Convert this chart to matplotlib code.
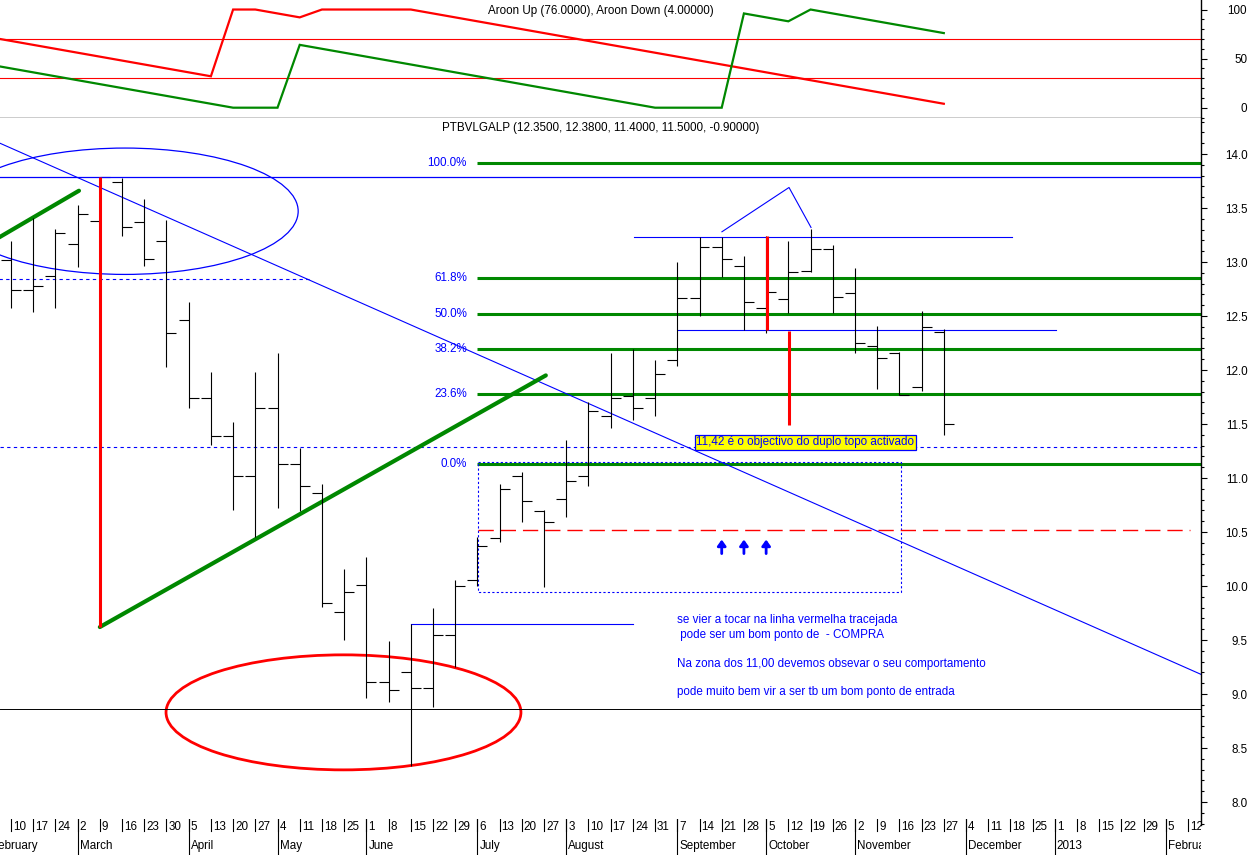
import matplotlib
matplotlib.use("Agg")
import matplotlib.pyplot as plt
from matplotlib.patches import Ellipse
from matplotlib.ticker import MultipleLocator, FixedLocator

plt.rcParams['font.family'] = ['Liberation Sans', 'DejaVu Sans']

W, H = 1250, 855
FS = 8.4

# ---------------- data ----------------
day_labels = ["10", "17", "24", "2", "9", "16", "23", "30", "5", "13", "20", "27", "4", "11", "18",
              "25", "1", "8", "15", "22", "29", "6", "13", "20", "27", "3", "10", "17", "24", "31",
              "7", "14", "21", "28", "5", "12", "19", "26", "2", "9", "16", "23", "27", "4", "11",
              "18", "25", "1", "8", "15", "22", "29", "5", "12"]
month_labels = ["February", "March", "April", "May", "June", "July", "August", "September",
                "October", "November", "December", "2013", "February"]
month_start = [-1, 3, 8, 12, 16, 21, 25, 30, 34, 38, 43, 47, 52]

opens = [13.02, 12.74, 12.87, 13.17, 13.38, 13.74, 13.37, 13.19, 12.46, 11.74,
         11.39, 11.02, 11.65, 11.13, 10.86, 9.76, 10.01, 9.11, 9.20, 9.06,
         9.55, 10.06, 10.44, 11.02, 10.69, 10.81, 11.02, 11.57, 11.76, 11.74,
         12.09, 12.67, 13.14, 12.96, 12.57, 12.66, 12.92, 13.12, 12.71, 12.22,
         12.16, 11.84, 12.35]
highs = [13.19, 13.41, 13.31, 13.53, 13.79, 13.78, 13.58, 13.39, 12.63, 11.98,
         11.52, 11.98, 12.16, 11.28, 10.94, 10.16, 10.27, 9.49, 9.65, 9.80,
         10.06, 10.45, 10.94, 11.06, 10.70, 11.35, 11.70, 12.16, 12.19, 12.09,
         13.00, 13.23, 13.23, 13.06, 13.24, 13.19, 13.31, 13.16, 12.94, 12.41,
         12.17, 12.55, 12.38]
lows = [12.57, 12.54, 12.57, 12.95, 13.20, 13.24, 12.96, 12.03, 11.65, 11.31,
        10.70, 10.45, 10.72, 10.69, 9.81, 9.50, 8.96, 8.93, 8.33, 8.88,
        9.25, 10.00, 10.41, 10.59, 9.99, 10.64, 10.93, 11.46, 11.54, 11.57,
        12.04, 12.50, 12.86, 12.37, 12.34, 12.53, 12.91, 12.53, 12.16, 11.82,
        11.77, 11.81, 11.40]
closes = [12.74, 12.78, 13.27, 13.44, 13.79, 13.32, 13.03, 12.34, 11.74, 11.39,
          11.02, 11.65, 11.13, 10.93, 9.84, 9.94, 9.11, 9.04, 9.06, 9.55,
          10.00, 10.37, 10.90, 10.79, 10.59, 10.97, 11.62, 11.74, 11.65, 11.96,
          12.67, 13.14, 13.03, 12.63, 12.72, 12.91, 13.12, 12.68, 12.25, 12.11,
          11.77, 12.40, 11.50]

aroon_weeks = list(range(-1, 43))
aroon_up = [44, 40, 36, 32, 28, 24, 20, 16, 12, 8, 4, 0, 0, 0, 64, 60, 56, 52, 48, 44,
            40, 36, 32, 28, 24, 20, 16, 12, 8, 4, 0, 0, 0, 0, 96, 92, 88, 100, 96, 92,
            88, 84, 80, 76]
aroon_down = [72, 68, 64, 60, 56, 52, 48, 44, 40, 36, 32, 100, 100, 96, 92, 100, 100, 100, 100, 100,
              96, 92, 88, 84, 80, 76, 72, 68, 64, 60, 56, 52, 48, 44, 40, 36, 32, 28, 24, 20,
              16, 12, 8, 4]

fib_labels = ["100.0%", "61.8%", "50.0%", "38.2%", "23.6%", "0.0%"]
fib_values = [13.92, 12.85, 12.52, 12.19, 11.78, 11.13]

# drawn studies (week index, price)
trend_blue = [(-0.5, 14.10), (53.6, 9.18)]
trend_green_1 = [(-0.6, 13.22), (3.06, 13.66)]
trend_green_2 = [(4.0, 9.62), (24.08, 11.95)]
red_drop = [(4.0, 13.79), (4.0, 9.62)]
red_drop_2 = [(34.03, 13.24), (34.03, 12.37)]
red_drop_3 = [(35.03, 12.36), (35.03, 11.49)]
head_line = [(32.01, 13.28), (35.03, 13.69), (36.02, 13.32)]
hline_full_blue = 13.79
hline_full_black = 8.86
hline_dotted_full = 11.29
hline_dotted_left = (12.84, -0.6, 13.5)
blue_segments = [(9.65, 18.0, 28.0), (13.23, 28.05, 45.07), (12.37, 30.03, 47.05)]
red_dashed = (10.52, 21.03, 53.1)
dotted_box = (21.03, 9.94, 40.07, 11.15)   # x0, y0, x1, y1
arrow_weeks = [32, 33, 34]
arrow_tip, arrow_base = 10.43, 10.30
ellipse_blue = (5.13, 13.47, 15.6, 1.17)
ellipse_red = (14.97, 8.83, 15.98, 1.065)
fib_x0 = 21.0

note_text = "11,42 é o objectivo do duplo topo activado"
note_pos = (30.85, 11.33)
comments = ["se vier a tocar na linha vermelha tracejada",
            " pode ser um bom ponto de  - COMPRA",
            "Na zona dos 11,00 devemos obsevar o seu comportamento",
            "pode muito bem vir a ser tb um bom ponto de entrada"]
comment_y = [9.685, 9.546, 9.278, 9.02]
comment_x = 29.99

# ---------------- layout ----------------
fig = plt.figure(figsize=(W / 100, H / 100), dpi=100)
fig.patch.set_facecolor('white')

AX_R = 1201
MAIN_TOP, MAIN_BOT = 118, 825
XMIN, XMAX = -0.4955, 53.58

ax2 = fig.add_axes([0, 1 - MAIN_TOP / H, AX_R / W, MAIN_TOP / H])
ax = fig.add_axes([0, 1 - MAIN_BOT / H, AX_R / W, (MAIN_BOT - MAIN_TOP) / H])
axd = fig.add_axes([0, 0, AX_R / W, 36 / H])

PX_PER_PT = 100 / 72.0

# ---- Aroon panel ----
ax2.set_xlim(XMIN, XMAX)
ax2.set_ylim(-10.5, 109.7)
ax2.axhline(70, color='red', lw=0.8)
ax2.axhline(30, color='red', lw=0.8)
ax2.plot(aroon_weeks, aroon_down, color='red', lw=1.6, solid_joinstyle='miter')
ax2.plot(aroon_weeks, aroon_up, color='#008800', lw=1.6, solid_joinstyle='miter')
ax2.text(0.5, 1 - 11 / MAIN_TOP, "Aroon Up (76.0000), Aroon Down (4.00000)", transform=ax2.transAxes,
         ha='center', va='center', fontsize=FS)
for s in ['top', 'left']:
    ax2.spines[s].set_visible(False)
ax2.spines['right'].set_linewidth(1.0)
ax2.spines['bottom'].set_linewidth(1.0)
ax2.xaxis.set_visible(False)
ax2.yaxis.tick_right()
ax2.yaxis.set_major_locator(FixedLocator([0, 50, 100]))
ax2.yaxis.set_minor_locator(MultipleLocator(10))
ax2.tick_params(axis='y', which='major', length=6 / PX_PER_PT, width=0.8, direction='out',
                pad=(46 - 6) / PX_PER_PT, labelsize=FS)
ax2.tick_params(axis='y', which='minor', length=3 / PX_PER_PT, width=0.8, direction='out')
for t in ax2.get_yticklabels():
    t.set_horizontalalignment('right')

# ---- Main panel ----
ax.set_xlim(XMIN, XMAX)
ax.set_ylim(14 - (MAIN_BOT - 154) / 108.0, 14 + (154 - MAIN_TOP) / 108.0)

# horizontal references
ax.axhline(hline_full_black, color='black', lw=0.7)
ax.axhline(hline_dotted_full, color='blue', lw=0.8, ls=(0, (3, 3)))
ax.plot([hline_dotted_left[1], hline_dotted_left[2]], [hline_dotted_left[0]] * 2,
        color='blue', lw=0.8, ls=(0, (3, 3)))

# fib lines
for lab, v in zip(fib_labels, fib_values):
    ax.plot([fib_x0, XMAX + 1], [v, v], color='#008800', lw=2.2, solid_capstyle='butt')
    ax.text(fib_x0 - 0.47, v, lab, color='blue', ha='right', va='center', fontsize=FS)

# dotted box
bx0, by0, bx1, by1 = dotted_box
ax.plot([bx0, bx1, bx1, bx0, bx0], [by1, by1, by0, by0, by1], color='blue', lw=0.8, ls=(0, (2, 2)))

# red dashed
ax.plot([red_dashed[1], red_dashed[2]], [red_dashed[0]] * 2, color='red', lw=1.0, ls=(0, (11, 5)))

# blue segments
for yv, x0, x1 in blue_segments:
    ax.plot([x0, x1], [yv, yv], color='blue', lw=0.8)

# trend lines
ax.plot(*zip(*trend_blue), color='blue', lw=0.8)
ax.plot(*zip(*head_line), color='blue', lw=0.8)
ax.plot(*zip(*trend_green_1), color='#008800', lw=3.0, solid_capstyle='round')
ax.plot(*zip(*trend_green_2), color='#008800', lw=3.0, solid_capstyle='round')

# ellipses
ex, ey, ew, eh = ellipse_blue
ax.add_patch(Ellipse((ex, ey), ew, eh, fill=False, edgecolor='blue', lw=0.9))
ex, ey, ew, eh = ellipse_red
ax.add_patch(Ellipse((ex, ey), ew, eh, fill=False, edgecolor='red', lw=2.0))

# price bars
TICK = 0.45
for i, (o, h, l, c) in enumerate(zip(opens, highs, lows, closes)):
    ax.plot([i, i], [l, h], color='black', lw=0.8, solid_capstyle='butt')
    ax.plot([i - TICK, i], [o, o], color='black', lw=0.8, solid_capstyle='butt')
    ax.plot([i, i + TICK], [c, c], color='black', lw=0.8, solid_capstyle='butt')

# blue horizontal reference drawn over the bars
ax.axhline(hline_full_blue, color='blue', lw=0.9, zorder=5)

# red verticals on top
for seg in (red_drop, red_drop_2, red_drop_3):
    ax.plot(*zip(*seg), color='red', lw=2.2, solid_capstyle='butt', zorder=6)

# arrows
for w in arrow_weeks:
    ax.annotate('', xy=(w, arrow_tip), xytext=(w, arrow_base),
                arrowprops=dict(arrowstyle='-|>,head_width=0.25,head_length=0.35', color='blue',
                                lw=2.0, mutation_scale=10, shrinkA=0, shrinkB=0))

# texts
ax.text(note_pos[0], note_pos[1], note_text, color='blue', fontsize=FS, ha='left', va='center',
        bbox=dict(boxstyle='square,pad=0.12', facecolor='yellow', edgecolor='blue', lw=0.9), zorder=7)
for t, yv in zip(comments, comment_y):
    ax.text(comment_x, yv, t, color='blue', fontsize=FS, ha='left', va='center')

ax.text(0.5, 1 - 10 / (MAIN_BOT - MAIN_TOP), "PTBVLGALP (12.3500, 12.3800, 11.4000, 11.5000, -0.90000)",
        transform=ax.transAxes, ha='center', va='center', fontsize=FS)

for s in ['left', 'bottom', 'top']:
    ax.spines[s].set_visible(False)
ax.spines['right'].set_linewidth(1.0)
ax.xaxis.set_visible(False)
ax.yaxis.tick_right()
ax.yaxis.set_major_locator(MultipleLocator(0.5))
ax.yaxis.set_minor_locator(MultipleLocator(0.1))
ax.yaxis.set_major_formatter(matplotlib.ticker.FormatStrFormatter('%.1f'))
ax.tick_params(axis='y', which='major', length=6 / PX_PER_PT, width=0.8, direction='out',
               pad=(47 - 6) / PX_PER_PT, labelsize=FS)
ax.tick_params(axis='y', which='minor', length=3 / PX_PER_PT, width=0.8, direction='out')
for t in ax.get_yticklabels():
    t.set_horizontalalignment('right')

# ---- date axis ----
axd.set_xlim(XMIN, XMAX)
axd.set_ylim(855, 819)
axd.axis('off')
for i, lab in enumerate(day_labels):
    axd.plot([i, i], [819, 831], color='black', lw=0.8, clip_on=True)
    axd.text(i + 0.09, 826.5, lab, ha='left', va='center', fontsize=FS, clip_on=True)
for m, lab in zip(month_start, month_labels):
    axd.plot([m, m], [819, 855], color='black', lw=0.8, clip_on=True)
    axd.text(m + 0.09, 846, lab, ha='left', va='center', fontsize=FS, clip_on=True)

fig.savefig("out.png", dpi=100, facecolor='white')
